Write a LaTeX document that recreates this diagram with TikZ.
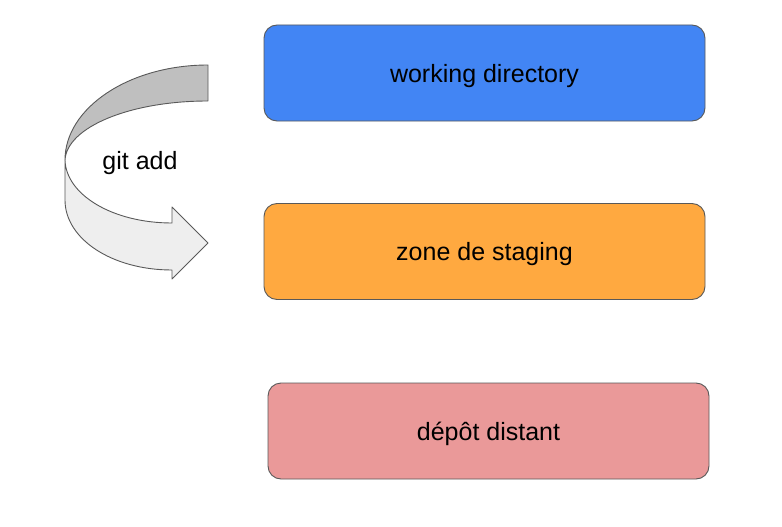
\documentclass[tikz,border=0pt]{standalone}
\usepackage{fontspec}
\setmainfont{Liberation Sans}
\definecolor{wdblue}{HTML}{4285F4}
\definecolor{stgorange}{HTML}{FFA940}
\definecolor{remotepink}{HTML}{EA9999}
\definecolor{edgegray}{HTML}{595959}
\definecolor{backgray}{HTML}{BFBFBF}
\definecolor{frontgray}{HTML}{EEEEEE}
\begin{document}
\begin{tikzpicture}[x=1pt,y=-1pt,
  areabox/.style={draw=edgegray,line width=0.9pt,rounded corners=13pt,
    minimum width=441pt,minimum height=96pt,inner sep=0pt,
    text height=18pt,text depth=0pt,
    font=\fontsize{25}{30}\selectfont,text=black},
  arrowpart/.style={draw=edgegray,line width=0.9pt,line join=round}]
\useasboundingbox (0,0) rectangle (782,527);
\node[areabox,fill=wdblue] (wd) at (484.5,73) {working directory};
\node[areabox,fill=stgorange] (stg) at (484.5,251.5) {zone de staging};
\node[areabox,fill=remotepink] (rem) at (488.5,431) {dépôt distant};
% curved arrow: back band
\path[arrowpart,fill=backgray] (208,65) .. controls (129,65) and (65,108) .. (65,160)
  .. controls (67,127) and (130,101) .. (208,101) -- cycle;
% curved arrow: front band with head
\path[arrowpart,fill=frontgray] (65,160) -- (65,200) .. controls (65,239) and (112,270) .. (172,270)
  -- (172,279) -- (208,243) -- (172,207) -- (172,223)
  .. controls (113,223) and (66,195) .. (65,160) -- cycle;
\node[font=\fontsize{25}{30}\selectfont,text=black] (gitadd) at (140,163) {git add};
\end{tikzpicture}
\end{document}
